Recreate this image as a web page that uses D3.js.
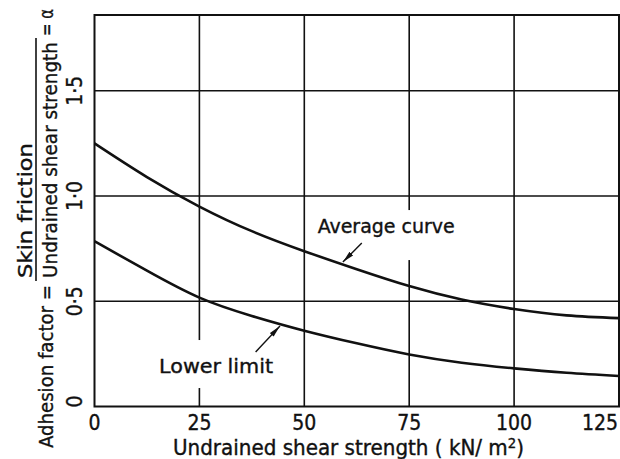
<!DOCTYPE html>
<html>
<head>
<meta charset="utf-8">
<script src="https://cdn.jsdelivr.net/npm/d3@7"></script>
<style>
  html, body { margin: 0; padding: 0; background: #fff; }
  svg { display: block; }
  text { font-family: "DejaVu Sans Condensed", "DejaVu Sans", sans-serif; fill: #111; stroke: #111; stroke-width: 0.35px; }
</style>
</head>
<body>
<svg id="chart" width="620" height="459"></svg>
<script>
// ---- data ----
const strength = [0, 12.5, 25, 37.5, 50, 62.5, 75, 87.5, 100, 112.5, 125];
const averageCurve = [1.25, 1.09, 0.95, 0.833, 0.738, 0.652, 0.572, 0.508, 0.463, 0.433, 0.42];
const lowerLimit = [0.785, 0.645, 0.517, 0.43, 0.36, 0.30, 0.247, 0.208, 0.181, 0.16, 0.145];
const xTicks = [0, 25, 50, 75, 100, 125];
const xTickLabels = ["0", "25", "50", "75", "100", "125"];
const yTicks = [0, 0.5, 1.0, 1.5];
const yTickLabels = ["0", "0·5", "1·0", "1·5"];

const svg = d3.select("#chart");
const x = d3.scaleLinear().domain([0, 125]).range([94.5, 619]);
const y = d3.scaleLinear().domain([0, 1.86]).range([406.5, 15]);
const ink = "#111";

// horizontal grid
svg.append("g").selectAll("line").data(yTicks.filter(d => d > 0)).join("line")
  .attr("x1", x(0)).attr("x2", x(125))
  .attr("y1", d => y(d)).attr("y2", d => y(d))
  .attr("stroke", ink).attr("stroke-width", 1.6);
// vertical grid
svg.append("g").selectAll("line").data(xTicks.filter(d => d > 0 && d < 125)).join("line")
  .attr("x1", d => x(d)).attr("x2", d => x(d))
  .attr("y1", y(0)).attr("y2", y(1.86))
  .attr("stroke", ink).attr("stroke-width", 1.6);

// annotation labels with white gaps behind
const gapLayer = svg.append("g");
const notes = [
  { text: "Average curve", lx: 53.2, ly: 0.824, len: 137, padTop: 4, padBot: 22,
    tail: [63.7, 0.777], tip: [59.2, 0.686] },
  { text: "Lower limit", lx: 15.4, ly: 0.159, len: 114, padTop: 14, padBot: 10,
    tail: [38.4, 0.259], tip: [44.2, 0.382] }
];

// curves
const line = d3.line().x(d => x(d[0])).y(d => y(d[1])).curve(d3.curveNatural);
[averageCurve, lowerLimit].forEach(series => {
  svg.append("path")
    .datum(strength.map((s, i) => [s, series[i]]))
    .attr("d", line)
    .attr("fill", "none").attr("stroke", ink).attr("stroke-width", 2.6);
});

// frame
svg.append("rect")
  .attr("x", x(0)).attr("y", y(1.86))
  .attr("width", x(125) - x(0)).attr("height", y(0) - y(1.86))
  .attr("fill", "none").attr("stroke", ink).attr("stroke-width", 2);

// arrow marker
svg.append("defs").append("marker")
  .attr("id", "ah").attr("markerUnits", "userSpaceOnUse")
  .attr("viewBox", "0 -3 12 6").attr("refX", 12).attr("refY", 0)
  .attr("markerWidth", 12).attr("markerHeight", 6).attr("orient", "auto")
  .append("path").attr("d", "M0,-2.6L12,0L0,2.6Z").attr("fill", ink);

notes.forEach(n => {
  const t = svg.append("text")
    .attr("x", x(n.lx)).attr("y", y(n.ly))
    .attr("font-size", 20)
    .attr("textLength", n.len).attr("lengthAdjust", "spacingAndGlyphs")
    .text(n.text);
  const bb = t.node().getBBox();
  gapLayer.append("rect")
    .attr("x", bb.x - 3).attr("y", bb.y - n.padTop)
    .attr("width", bb.width + 6).attr("height", bb.height + n.padTop + n.padBot)
    .attr("fill", "#fff");
  svg.append("line")
    .attr("x1", x(n.tail[0])).attr("y1", y(n.tail[1]))
    .attr("x2", x(n.tip[0])).attr("y2", y(n.tip[1]))
    .attr("stroke", ink).attr("stroke-width", 1.4)
    .attr("marker-end", "url(#ah)");
});

// x tick labels
svg.append("g").selectAll("text").data(xTicks).join("text")
  .attr("x", (d, i) => i === xTicks.length - 1 ? x(d) - 1 : x(d))
  .attr("y", 430)
  .attr("text-anchor", (d, i) => i === xTicks.length - 1 ? "end" : "middle")
  .attr("font-size", 21)
  .text((d, i) => xTickLabels[i]);

// y tick labels (rotated)
svg.append("g").selectAll("text").data(yTicks).join("text")
  .attr("transform", d => `translate(82,${y(d) - (d === 0 ? 5 : 0)}) rotate(-90)`)
  .attr("text-anchor", "middle")
  .attr("font-size", 21)
  .text((d, i) => yTickLabels[i]);

// x axis title
const xt = svg.append("text")
  .attr("x", 348.5).attr("y", 455)
  .attr("text-anchor", "middle").attr("font-size", 21)
  .attr("textLength", 351).attr("lengthAdjust", "spacingAndGlyphs");
xt.append("tspan").text("Undrained shear strength ( kN/ m");
xt.append("tspan").attr("dy", -7).attr("font-size", 14).text("2");
xt.append("tspan").attr("dy", 7).text(")");

// y axis title (rotated, with fraction)
const yTitle = svg.append("g").attr("font-size", 20);
yTitle.append("text")
  .attr("transform", "translate(53,448) rotate(-90)")
  .attr("textLength", 163).attr("lengthAdjust", "spacingAndGlyphs")
  .text("Adhesion factor =");
yTitle.append("text")
  .attr("transform", "translate(32,278) rotate(-90)")
  .attr("textLength", 135).attr("lengthAdjust", "spacingAndGlyphs")
  .text("Skin friction");
yTitle.append("line")
  .attr("x1", 36).attr("x2", 36).attr("y1", 38).attr("y2", 281)
  .attr("stroke", ink).attr("stroke-width", 1.6);
yTitle.append("text")
  .attr("transform", "translate(57,278) rotate(-90)")
  .attr("textLength", 236).attr("lengthAdjust", "spacingAndGlyphs")
  .text("Undrained shear strength");
yTitle.append("text")
  .attr("transform", "translate(53,36) rotate(-90)")
  .attr("textLength", 27).attr("lengthAdjust", "spacingAndGlyphs")
  .text("= α");
</script>
</body>
</html>
